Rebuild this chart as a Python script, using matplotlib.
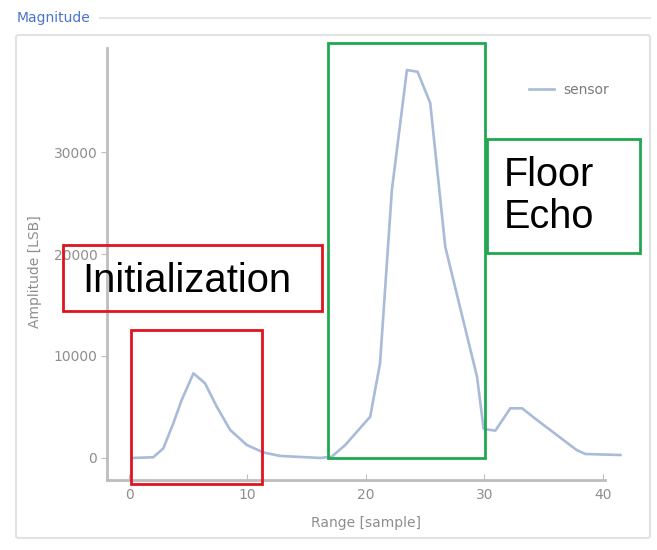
import matplotlib
matplotlib.use("Agg")
import matplotlib.pyplot as plt
from matplotlib.patches import Rectangle, FancyBboxPatch
from matplotlib.lines import Line2D

# Sensor magnitude profile
range_samples = [0.23, 2.05, 2.9, 3.74, 4.45, 5.44, 6.42, 7.41, 8.54, 9.95,
                 11.35, 12.76, 16.15, 17.13, 18.26, 20.37, 21.2, 22.2, 23.47,
                 24.37, 25.44, 26.71, 29.39, 29.95, 30.94, 32.2, 33.2, 34.45,
                 37.8, 38.55, 41.5]
amplitude = [0, 70, 950, 3400, 5690, 8300, 7320, 5030, 2750, 1270,
             540, 200, 0, 130, 1270, 4050, 9280, 26270, 38040,
             37870, 34800, 20700, 7970, 2840, 2680, 4870, 4870, 3730,
             780, 390, 290]

x_ticks = [0, 10, 20, 30, 40]
y_ticks = [0, 10000, 20000, 30000]

W, H = 657, 550
fig = plt.figure(figsize=(W / 100, H / 100), dpi=100)
fig.patch.set_facecolor("white")


def fx(px):
    return px / W


def fy(py):
    return 1 - py / H


# Panel frame and caption
panel = FancyBboxPatch((fx(16), fy(538)), fx(650) - fx(16), fy(35) - fy(538),
                       boxstyle="round,pad=0,rounding_size=0.004",
                       transform=fig.transFigure, facecolor="white",
                       edgecolor="#e2e2e2", lw=1.5, zorder=0)
fig.add_artist(panel)
fig.add_artist(Line2D([fx(100), fx(650)], [fy(18), fy(18)],
                      transform=fig.transFigure, color="#e6e6e6", lw=1.5))
fig.text(fx(17), fy(18), "Magnitude", color="#4a74c9", fontsize=10,
         va="center", ha="left", family="DejaVu Sans")

ax = fig.add_axes([fx(107), fy(480), fx(605) - fx(107), fy(48) - fy(480)])
ax.set_facecolor("none")
ax.plot(range_samples, amplitude, color="#a8bbd8", lw=1.9, clip_on=False,
        label="sensor", solid_joinstyle="round")

ax.set_xlim(-1.86, 40.2)
ax.set_ylim(-2160, 40200)
ax.set_xticks(x_ticks)
ax.set_yticks(y_ticks)

gray = "#8e8e8e"
for side in ("top", "right"):
    ax.spines[side].set_visible(False)
for side in ("left", "bottom"):
    ax.spines[side].set_color("#bdbdbd")
    ax.spines[side].set_linewidth(2)
ax.tick_params(axis="x", direction="in", length=4, color="#bdbdbd",
               labelcolor=gray, labelsize=10, pad=6)
ax.tick_params(axis="y", direction="out", length=4, color="#bdbdbd",
               labelcolor=gray, labelsize=10, pad=3)
ax.set_xlabel("Range [sample]", color=gray, fontsize=10)
ax.set_ylabel("Amplitude [LSB]", color=gray, fontsize=10)
ax.xaxis.set_label_coords((366 - 107) / (605 - 107), -(516 - 480) / (480 - 48))
ax.yaxis.set_label_coords(-(107 - 42) / (605 - 107), (480 - 272) / (480 - 48))

leg = ax.legend(loc="upper right", bbox_to_anchor=(fx(622), fy(70)),
                bbox_transform=fig.transFigure, frameon=False,
                fontsize=10, handlelength=1.8, handletextpad=0.7)
for t in leg.get_texts():
    t.set_color("#7a7a7a")

# Highlight boxes
red = "#e0141e"
green = "#1fa84f"
boxes = [
    (63, 245, 322, 311, red),
    (131, 330, 262, 484, red),
    (328, 43, 485, 458, green),
    (487, 139, 640, 253, green),
]
for x0, y0, x1, y1, c in boxes:
    fig.add_artist(Rectangle((fx(x0), fy(y1)), fx(x1) - fx(x0), fy(y0) - fy(y1),
                             transform=fig.transFigure, fill=False,
                             edgecolor=c, lw=2, zorder=5))

fig.text(fx(82), fy(281), "Initialization", fontsize=28.8, color="black",
         family="Liberation Sans", va="center", ha="left", zorder=6)
fig.text(fx(504), fy(196), "Floor\nEcho", fontsize=28.5, color="black",
         family="Liberation Sans", va="center", ha="left", linespacing=1.15,
         zorder=6)

fig.savefig("out.png", dpi=100, facecolor="white")
